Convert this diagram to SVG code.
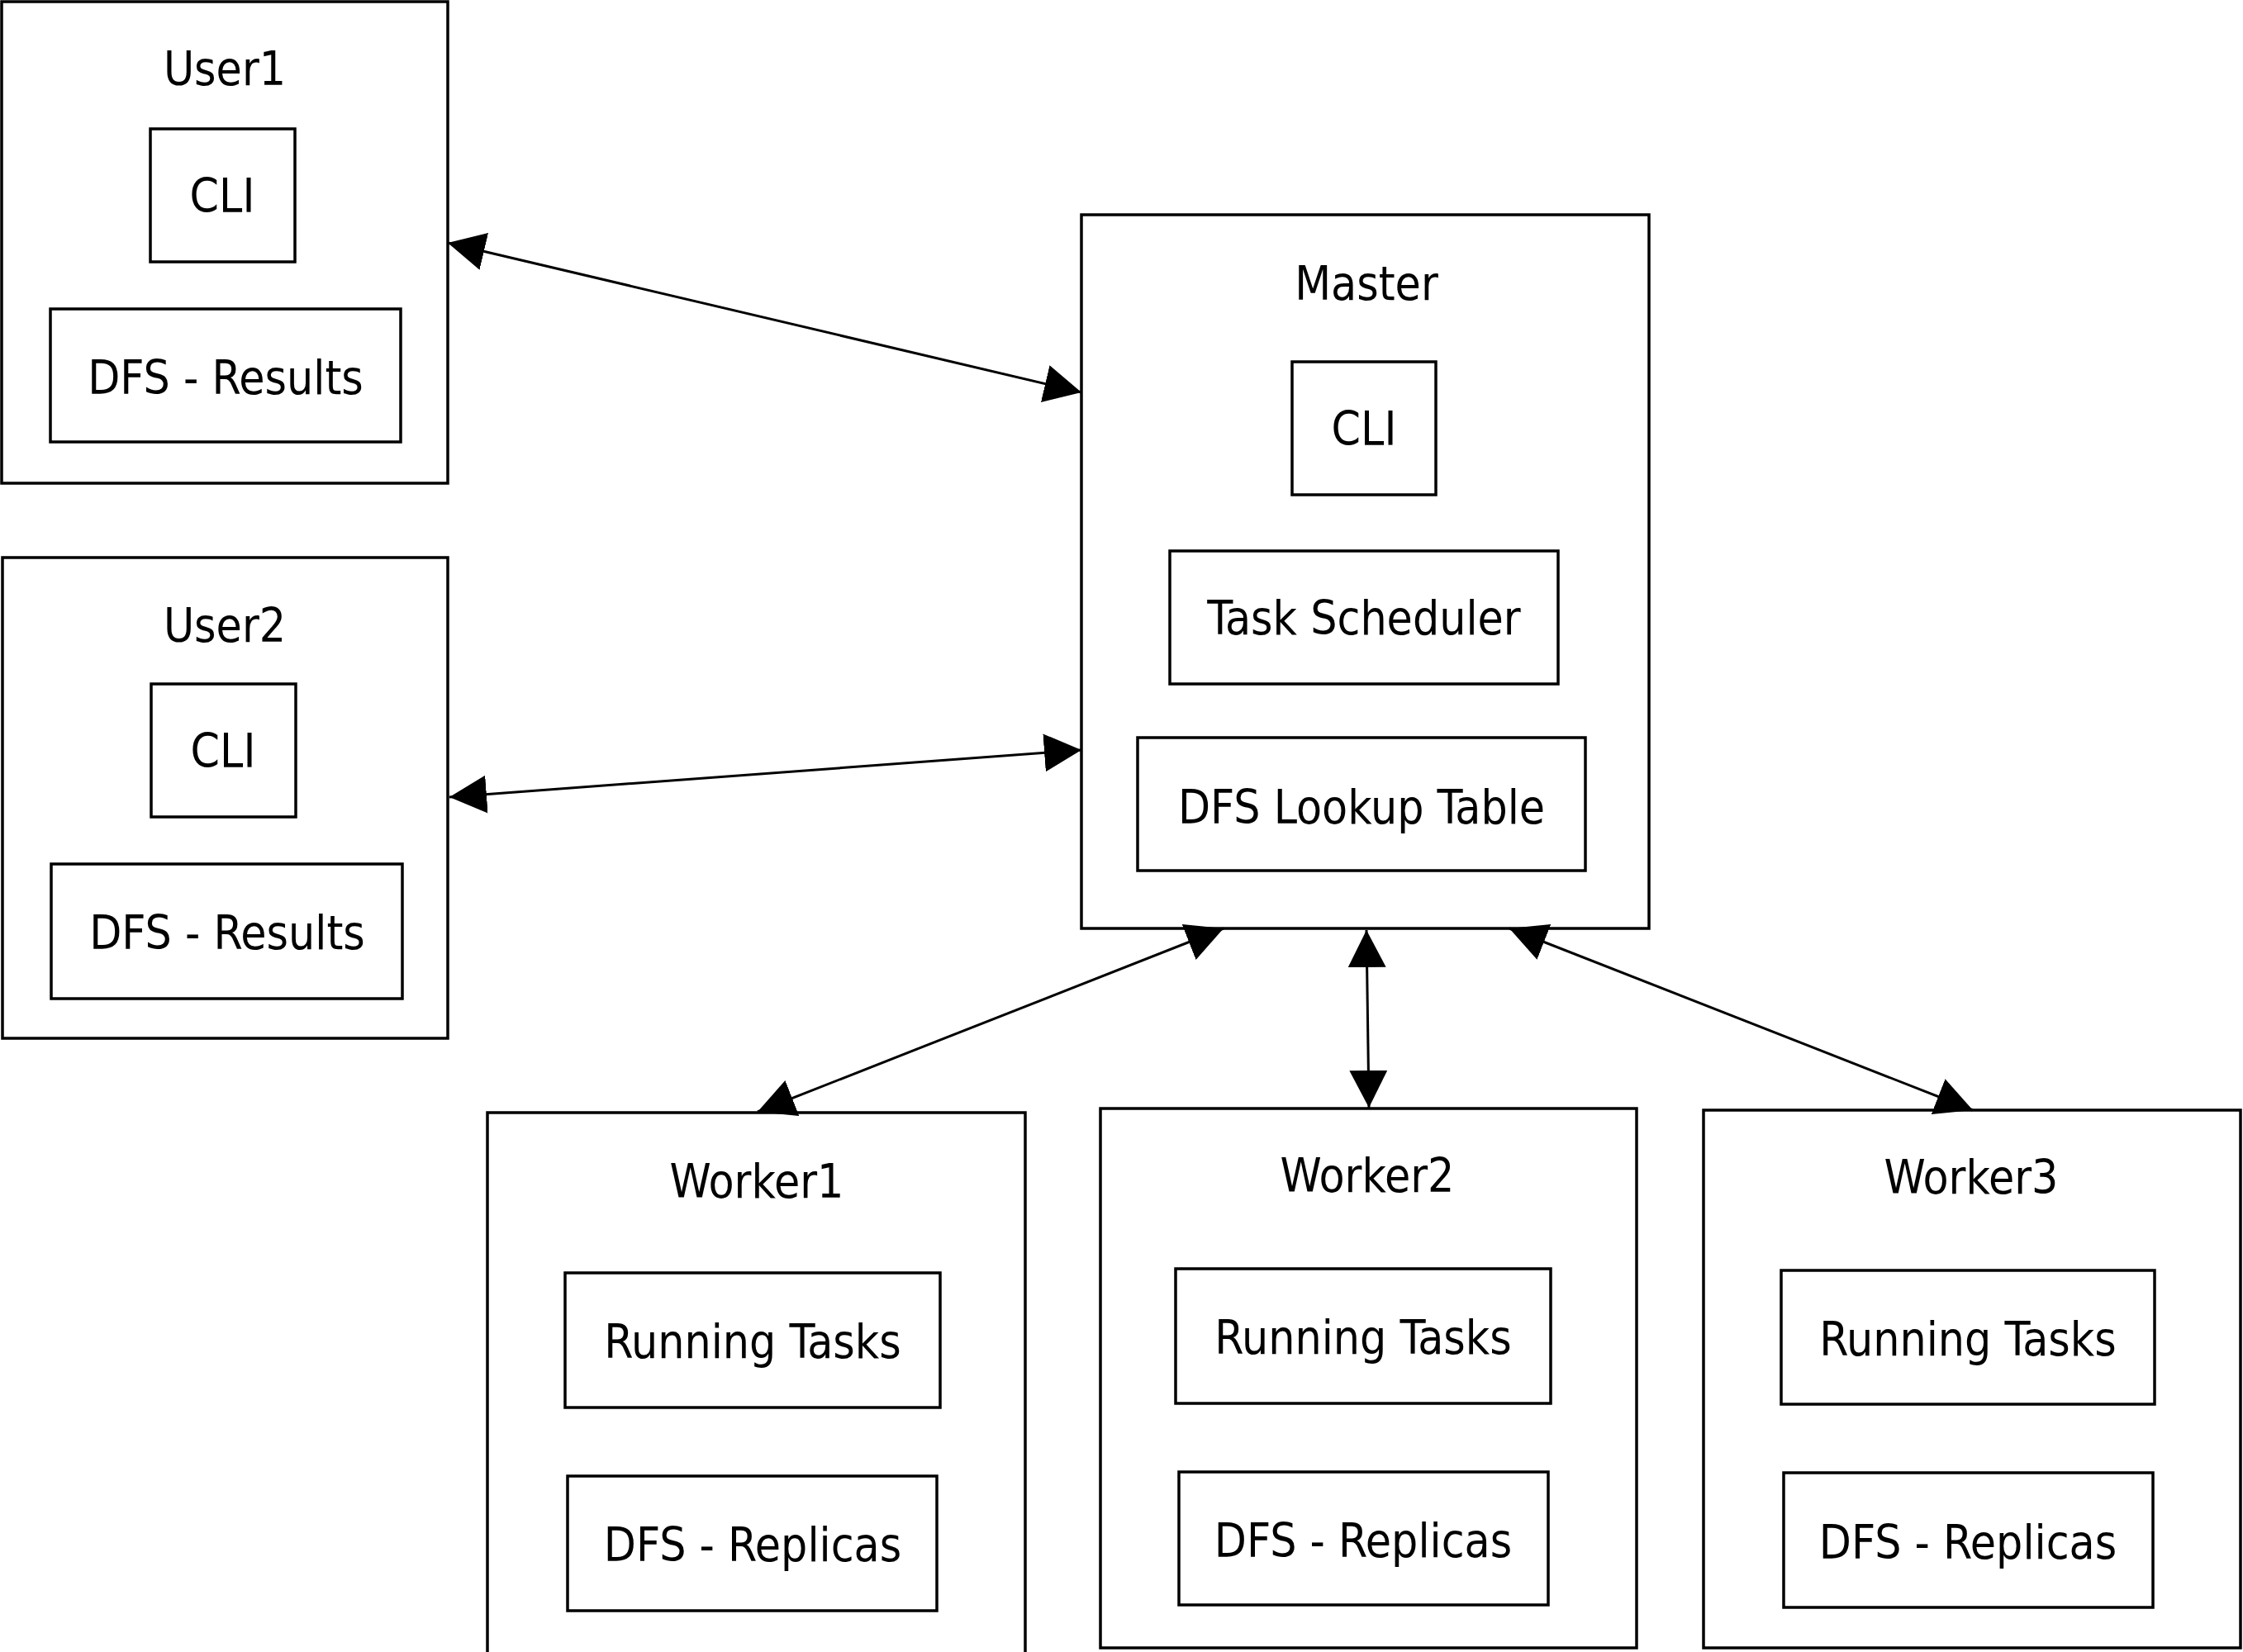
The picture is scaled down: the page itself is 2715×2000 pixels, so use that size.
<svg xmlns="http://www.w3.org/2000/svg" width="2715" height="2000" viewBox="0 0 2715 2000">
<style>
.box{fill:#fff;stroke:#000;stroke-width:3.5}
.in{fill:none;stroke:#000;stroke-width:3.5}
.t{font-family:"DejaVu Sans Condensed","DejaVu Sans",sans-serif;font-stretch:condensed;font-size:56.5px;text-anchor:middle;fill:#000}
.c{stroke:#000;stroke-width:3;fill:none;marker-start:url(#ah);marker-end:url(#ah)}
</style>
<defs>
<marker id="ah" markerUnits="userSpaceOnUse" markerWidth="46" markerHeight="46" viewBox="0 0 46 46" refX="45" refY="23" orient="auto-start-reverse">
<path d="M0,0 L45,23 L0,46 z" fill="#000"/>
</marker>
</defs>
<rect width="2715" height="2000" fill="#fff"/>
<g id="user1">
<rect class="box" x="2" y="2" width="540" height="583"/>
<text class="t" x="272" y="103">User1</text>
<rect class="in" x="182" y="156" width="175" height="161"/>
<text class="t" x="269" y="257">CLI</text>
<rect class="in" x="61" y="374" width="424" height="161"/>
<text class="t" x="273" y="477">DFS - Results</text>
</g>
<g id="user2">
<rect class="box" x="3" y="675" width="539" height="582"/>
<text class="t" x="272" y="777">User2</text>
<rect class="in" x="183" y="828" width="175" height="161"/>
<text class="t" x="270" y="929">CLI</text>
<rect class="in" x="62" y="1046" width="425" height="163"/>
<text class="t" x="275" y="1149">DFS - Results</text>
</g>
<g id="master">
<rect class="box" x="1309" y="260" width="687" height="864"/>
<text class="t" x="1654" y="363">Master</text>
<rect class="in" x="1564" y="438" width="174" height="161"/>
<text class="t" x="1651" y="539">CLI</text>
<rect class="in" x="1416" y="667" width="470" height="161"/>
<text class="t" x="1651" y="768">Task Scheduler</text>
<rect class="in" x="1377" y="893" width="542" height="161"/>
<text class="t" x="1648" y="997">DFS Lookup Table</text>
</g>
<g id="worker1">
<rect class="box" x="590" y="1347" width="651" height="660"/>
<text class="t" x="916" y="1450">Worker1</text>
<rect class="in" x="684" y="1541" width="454" height="163"/>
<text class="t" x="911" y="1644">Running Tasks</text>
<rect class="in" x="687" y="1787" width="447" height="163"/>
<text class="t" x="911" y="1890">DFS - Replicas</text>
</g>
<g id="worker2">
<rect class="box" x="1332" y="1342" width="649" height="653"/>
<text class="t" x="1655" y="1443">Worker2</text>
<rect class="in" x="1423" y="1536" width="454" height="163"/>
<text class="t" x="1650" y="1639">Running Tasks</text>
<rect class="in" x="1427" y="1782" width="447" height="161"/>
<text class="t" x="1650" y="1885">DFS - Replicas</text>
</g>
<g id="worker3">
<rect class="box" x="2062" y="1344" width="650" height="651"/>
<text class="t" x="2386" y="1445">Worker3</text>
<rect class="in" x="2156" y="1538" width="452" height="162"/>
<text class="t" x="2382" y="1641">Running Tasks</text>
<rect class="in" x="2159" y="1783" width="447" height="163"/>
<text class="t" x="2382" y="1887">DFS - Replicas</text>
</g>
<g id="connectors">
<line class="c" x1="542" y1="294" x2="1309" y2="475"/>
<line class="c" x1="544" y1="965" x2="1309" y2="908"/>
<line class="c" x1="1481" y1="1124" x2="917" y2="1346"/>
<line class="c" x1="1654" y1="1126" x2="1657" y2="1341"/>
<line class="c" x1="1827" y1="1124" x2="2388" y2="1344"/>
</g>
</svg>
